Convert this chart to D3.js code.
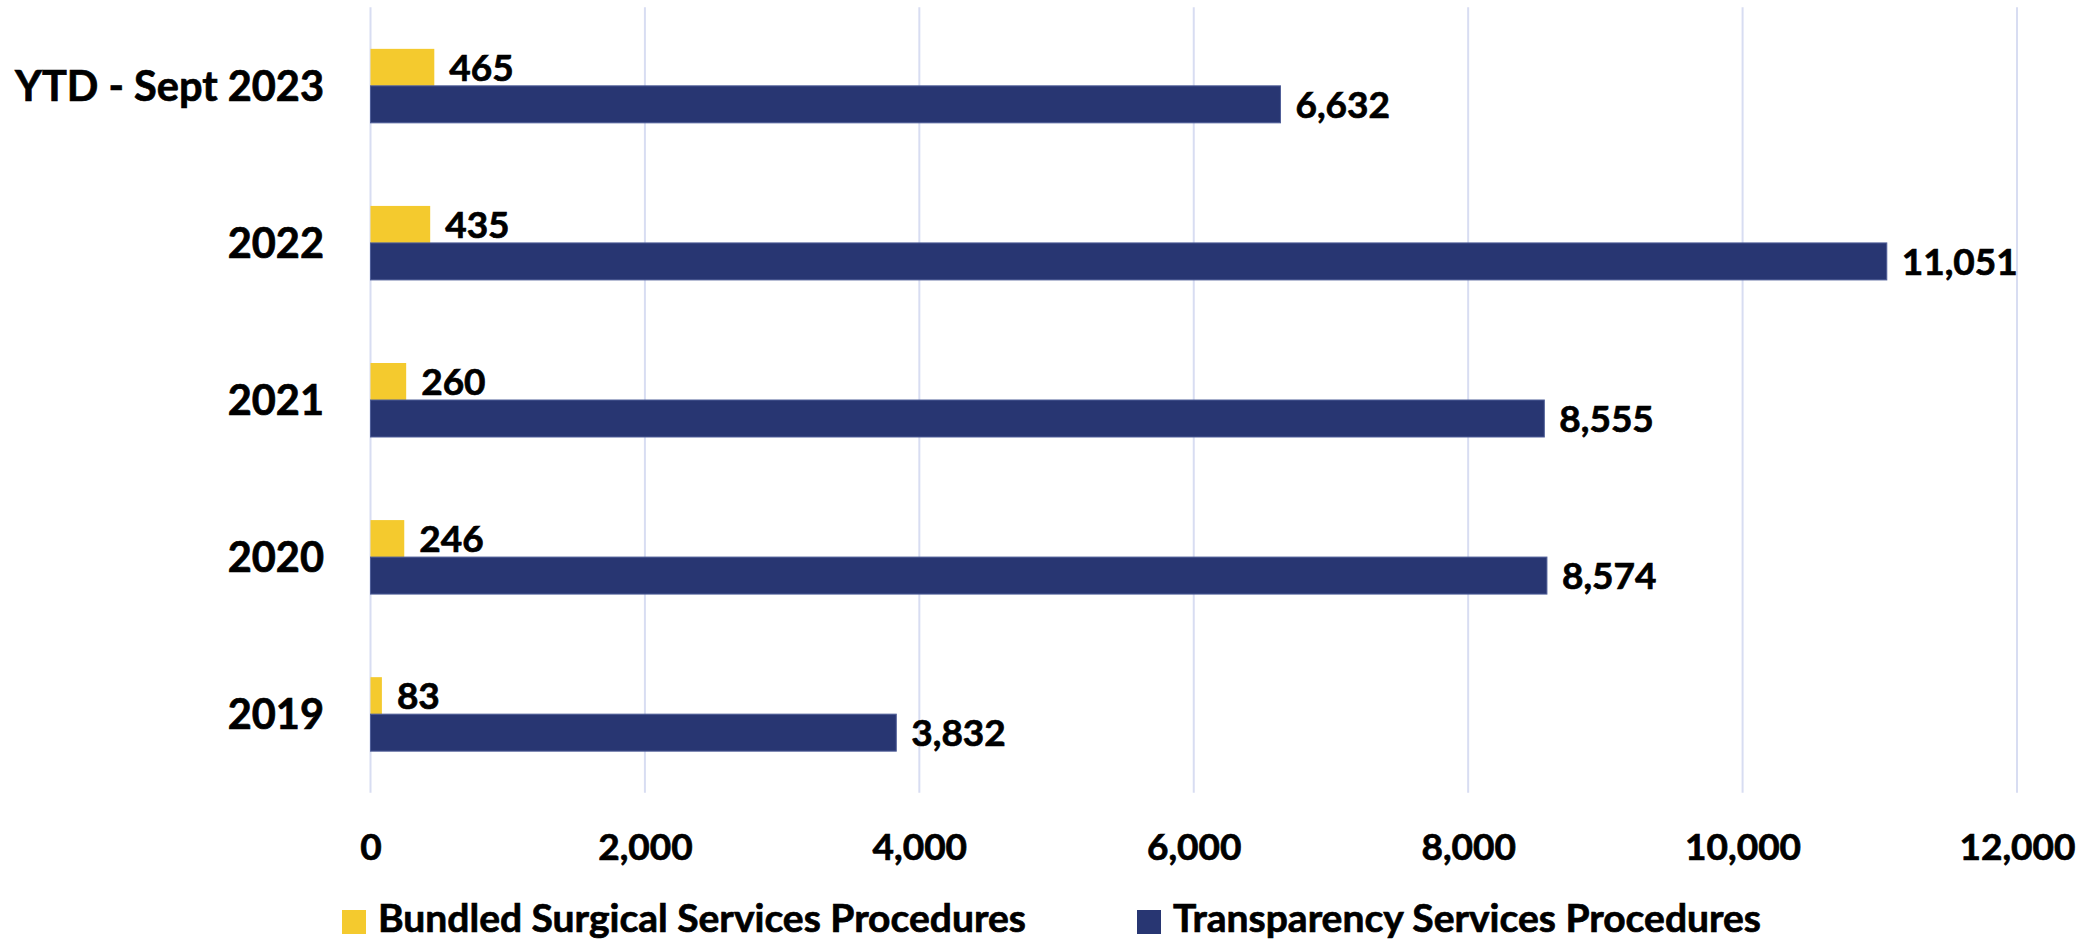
<!DOCTYPE html>
<html>
<head>
<meta charset="utf-8">
<script src="https://cdn.jsdelivr.net/npm/d3@7"></script>
<style>
  html, body { margin: 0; padding: 0; background: #ffffff; }
  svg { display: block; }
  text { font-family: Lato, "Noto Sans", sans-serif; font-weight: 700; fill: #000; stroke: #000; stroke-width: 0.7px; }
</style>
</head>
<body>
<svg id="chart" width="2097" height="943"></svg>
<script>
// Procedure counts per year
const categories = ["YTD - Sept 2023", "2022", "2021", "2020", "2019"];
const seriesNames = ["Bundled Surgical Services Procedures", "Transparency Services Procedures"];
const bundledValues = [465, 435, 260, 246, 83];
const transparencyValues = [6632, 11051, 8555, 8574, 3832];
const xTicks = [0, 2000, 4000, 6000, 8000, 10000, 12000];

const colors = { bundled: "#F4CA2E", transparency: "#283672" };

const svg = d3.select("#chart");
const plot = { left: 370.5, right: 2017, top: 7.3, bottom: 792.7 };

const x = d3.scaleLinear().domain([0, 12000]).range([plot.left, plot.right]);
const y = d3.scaleBand().domain(categories)
  .range([plot.top, plot.bottom])
  .paddingInner(0.529).paddingOuter(0.2645);
const ySeries = d3.scaleBand().domain(["bundled", "transparency"]).range([0, y.bandwidth()]);

const fmt = d3.format(",");

// vertical gridlines
svg.append("g")
  .selectAll("line")
  .data(xTicks)
  .join("line")
  .attr("x1", d => x(d)).attr("x2", d => x(d))
  .attr("y1", plot.top).attr("y2", plot.bottom)
  .attr("stroke", "#D8DDF2")
  .attr("stroke-width", 2);

// x axis tick labels
const xAxis = d3.axisBottom(x).tickValues(xTicks).tickFormat(fmt).tickSize(0).tickPadding(0);
const gx = svg.append("g").attr("transform", `translate(0, 847)`).call(xAxis);
gx.select(".domain").remove();
gx.selectAll("text")
  .attr("dy", "0.36em").attr("y", 0)
  .style("font-size", "37px")
  .style("font-family", "Lato, 'Noto Sans', sans-serif")
  .style("font-weight", 700)
  .attr("fill", "#000");

// category labels
const yAxis = d3.axisLeft(y).tickSize(0).tickPadding(0);
const gy = svg.append("g").attr("transform", `translate(324, 0)`).call(yAxis);
gy.select(".domain").remove();
gy.selectAll("text")
  .attr("dy", "0.36em")
  .style("font-size", "41.5px")
  .style("font-family", "Lato, 'Noto Sans', sans-serif")
  .style("font-weight", 700)
  .attr("fill", "#000");

const rows = categories.map((c, i) => ({
  cat: c,
  bundled: bundledValues[i],
  transparency: transparencyValues[i]
}));

const groups = svg.append("g").selectAll("g")
  .data(rows)
  .join("g")
  .attr("transform", d => `translate(0, ${y(d.cat)})`);

["bundled", "transparency"].forEach(key => {
  groups.append("rect")
    .attr("x", x(0))
    .attr("y", ySeries(key))
    .attr("width", d => x(d[key]) - x(0))
    .attr("height", ySeries.bandwidth())
    .attr("fill", colors[key])
    .attr("stroke", key === "transparency" ? "#4F5E98" : "none")
    .attr("stroke-width", 1);

  groups.append("text")
    .attr("x", d => x(d[key]) + 15)
    .attr("y", ySeries(key) + ySeries.bandwidth() / 2)
    .attr("dy", "0.36em")
    .style("font-size", "37px")
    .text(d => fmt(d[key]));
});

// legend
const legendItems = [
  { name: seriesNames[0], color: colors.bundled, x: 342 },
  { name: seriesNames[1], color: colors.transparency, x: 1137 }
];
const lg = svg.append("g").selectAll("g")
  .data(legendItems)
  .join("g")
  .attr("transform", d => `translate(${d.x}, 910)`);
lg.append("rect").attr("width", 24).attr("height", 24).attr("fill", d => d.color);
lg.append("text")
  .attr("x", 36).attr("y", 22)
  .style("font-size", "39px")
  .text(d => d.name);
</script>
</body>
</html>
